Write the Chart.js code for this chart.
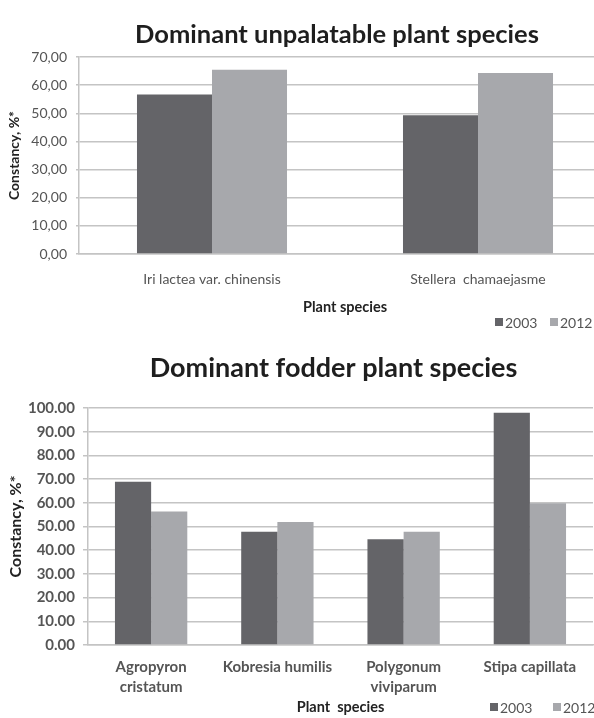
<!DOCTYPE html>
<html><head><meta charset="utf-8">
<script src="https://cdn.jsdelivr.net/npm/chart.js@4"></script>
<style>
html,body{margin:0;padding:0;background:#fff;overflow:hidden;}
#wrap{width:594px;height:718px;overflow:hidden;position:relative;background:#fff;}
#c1box{position:absolute;left:0;top:0;width:614px;height:335px;}
#c2box{position:absolute;left:0;top:335px;width:594px;height:383px;}
</style></head><body>
<div id="wrap"><div id="c1box"><canvas id="c1"></canvas></div><div id="c2box"><canvas id="c2"></canvas></div></div>
<script>
// ---- data ----
const seriesLabels = ['2003', '2012'];
const unpalatableSpecies = ['Iri lactea var. chinensis', 'Stellera  chamaejasme'];
const unpalatable2003 = [56.7, 49.3];
const unpalatable2012 = [65.5, 64.3];
const fodderSpecies = [['Agropyron', 'cristatum'], 'Kobresia humilis', ['Polygonum', 'viviparum'], 'Stipa capillata'];
const fodder2003 = [68.9, 47.8, 44.6, 98.0];
const fodder2012 = [56.3, 51.9, 47.8, 59.8];
const unpalatableAxis = {min: 0, max: 70, step: 10};
const fodderAxis = {min: 0, max: 100, step: 10};

// ---- style ----
const DARK = '#646468';
const LIGHT = '#a7a8ac';
const GRID = '#c4c4c4';
const TICK = '#555555';
const FONT = 'Lato, "Open Sans", sans-serif';

const manualLegend = {
  id: 'manualLegend',
  afterDraw(chart, args, opts) {
    const ctx = chart.ctx;
    ctx.save();
    ctx.font = opts.font;
    ctx.textBaseline = 'middle';
    ctx.textAlign = 'left';
    chart.data.datasets.forEach((ds, i) => {
      const x = opts.xs[i];
      ctx.fillStyle = ds.backgroundColor;
      ctx.fillRect(x, opts.y - opts.box / 2, opts.box, opts.box);
      ctx.fillStyle = opts.color;
      ctx.fillText(ds.label, x + opts.box + opts.gap, opts.y + 1);
    });
    ctx.restore();
  }
};

// nudge the title block horizontally
const titleShift = {
  id: 'titleShift',
  afterLayout(chart, args, opts) {
    const t = chart.titleBlock;
    if (t && opts.dx) { t.left += opts.dx; t.right += opts.dx; }
  }
};

function makeChart(id, cfg) {
  return new Chart(document.getElementById(id), {
    type: 'bar',
    data: {
      labels: cfg.labels,
      datasets: [
        {label: seriesLabels[0], data: cfg.d1, backgroundColor: DARK, borderWidth: 0},
        {label: seriesLabels[1], data: cfg.d2, backgroundColor: LIGHT, borderWidth: 0}
      ]
    },
    options: {
      responsive: true,
      maintainAspectRatio: false,
      animation: false,
      layout: {padding: {left: 0, right: cfg.padRight, top: 0, bottom: 0}},
      datasets: {bar: {categoryPercentage: cfg.catPct, barPercentage: 1}},
      plugins: {
        legend: {display: false},
        tooltip: {enabled: false},
        title: {
          display: true, text: cfg.title, color: '#1e1e1e', fullSize: false,
          font: {family: FONT, size: cfg.titleSize, weight: 'bold', lineHeight: 1.2},
          padding: cfg.titlePad
        },
        manualLegend: cfg.legend,
        titleShift: {dx: cfg.titleDx}
      },
      scales: {
        x: {
          grid: {display: false, drawTicks: false},
          border: {display: true, color: GRID, width: 1.5},
          ticks: {color: TICK, font: cfg.xFont, padding: cfg.xTickPad, maxRotation: 0, autoSkip: false},
          title: {display: true, text: cfg.xTitle, color: '#222',
                  font: {family: FONT, size: 14.5, weight: 'bold', lineHeight: 1.2}, padding: {top: 0, bottom: cfg.xTitlePad}},
          afterFit(s) { s.height = cfg.xHeight; }
        },
        y: {
          min: cfg.axis.min, max: cfg.axis.max,
          grid: {color: GRID, lineWidth: 1.5, tickLength: cfg.tickLen, drawTicks: true},
          border: {display: true, color: GRID, width: 1.5},
          ticks: {stepSize: cfg.axis.step, color: TICK, font: cfg.yFont, padding: cfg.yTickPad,
                  callback: cfg.fmt},
          title: {display: true, text: 'Constancy, %*', color: '#222',
                  font: {family: FONT, size: cfg.yTitleSize, weight: 'bold', lineHeight: 1.2}, padding: {top: cfg.yTitlePad, bottom: 0}},
          afterFit(s) { s.width = cfg.yWidth; }
        }
      }
    },
    plugins: [manualLegend, titleShift]
  });
}

makeChart('c1', {
  labels: unpalatableSpecies, d1: unpalatable2003, d2: unpalatable2012,
  title: 'Dominant unpalatable plant species', titleSize: 25.5, titleDx: -8,
  axis: unpalatableAxis, xTitle: 'Plant species',
  fmt: v => v.toFixed(2).replace('.', ','),
  padRight: 3, catPct: 0.564,
  titlePad: {top: 19.7, bottom: 6.7},
  xFont: {family: FONT, size: 14, lineHeight: 1.2}, xTickPad: 16.6, xTitlePad: 19.3, xHeight: 81,
  yFont: {family: FONT, size: 14}, yTickPad: 9, tickLen: 3, yTitleSize: 14, yTitlePad: 5.6, yWidth: 79,
  legend: {xs: [495, 550], y: 322, box: 8, gap: 2, font: '14px ' + FONT, color: TICK}
});

makeChart('c2', {
  labels: fodderSpecies, d1: fodder2003, d2: fodder2012,
  title: 'Dominant fodder plant species', titleSize: 27, titleDx: -7,
  axis: fodderAxis, xTitle: 'Plant  species',
  fmt: v => v.toFixed(2),
  padRight: 1, catPct: 0.573,
  titlePad: {top: 16.8, bottom: 23.8},
  xFont: {family: FONT, size: 15, weight: 'bold', lineHeight: 1.333}, xTickPad: 12, xTitlePad: 2.3, xHeight: 73,
  yFont: {family: FONT, size: 15, weight: 'bold'}, yTickPad: 8, tickLen: 5, yTitleSize: 16, yTitlePad: 6.4, yWidth: 88,
  legend: {xs: [490, 553], y: 372, box: 8, gap: 2, font: '14px ' + FONT, color: TICK}
});
</script>
</body></html>
